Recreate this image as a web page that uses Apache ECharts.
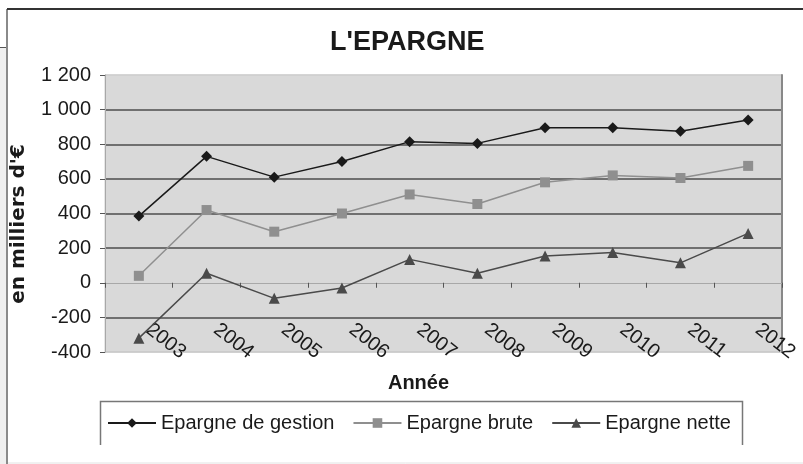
<!DOCTYPE html>
<html>
<head>
<meta charset="utf-8">
<script src="https://cdn.jsdelivr.net/npm/echarts@6/dist/echarts.min.js"></script>
<style>
  html, body { margin: 0; padding: 0; background: #fff; }
  #chart { width: 803px; height: 464px; }
</style>
</head>
<body>
<div id="chart"></div>
<script>
const years = ['2003', '2004', '2005', '2006', '2007', '2008', '2009', '2010', '2011', '2012']
const epargneGestion = [385, 730, 610, 700, 815, 805, 895, 895, 875, 940]
const epargneBrute = [40, 420, 295, 400, 510, 455, 580, 620, 605, 675]
const epargneNette = [-320, 55, -90, -30, 135, 55, 155, 175, 115, 285]
const yTicks = [-400, -200, 0, 200, 400, 600, 800, 1000, 1200]

const font = "'Liberation Sans', Arial, sans-serif"
const ink = '#1a1a1a'

// gap-separated thousands, like "1 200"
function formatTick(v) {
  const sign = v < 0 ? '-' : ''
  return sign + String(Math.abs(v)).replace(/\B(?=(\d{3})+(?!\d))/g, ' ')
}

// one colour per horizontal line, bottom to top; 0 is drawn by the x axis
const gridColors = yTicks.map((t) => {
  if (t === 0) return 'transparent'
  if (t === yTicks[0]) return '#c8c8c8'
  if (t === yTicks[yTicks.length - 1]) return '#cfcfcf'
  return '#4d4d4d'
})

function lineSeries(name, data, color, symbol, size) {
  return {
    name,
    type: 'line',
    data,
    symbol,
    symbolSize: size,
    color,
    lineStyle: { color, width: 1.5 },
    itemStyle: { color },
    emphasis: { disabled: true },
    z: 3,
  }
}

function buildOption() {
  return {
    backgroundColor: '#fff',
    animation: false,
    textStyle: { fontFamily: font },
    title: {
      text: "L'EPARGNE",
      left: 330,
      top: 29,
      padding: 0,
      textStyle: { fontFamily: font, fontSize: 27, fontWeight: 'bold', color: ink },
    },
    grid: {
      left: 105,
      right: 21,
      top: 75,
      bottom: 112,
      show: true,
      backgroundColor: '#d9d9d9',
      borderColor: '#cfcfcf',
      borderWidth: 1,
    },
    legend: {
      left: 100,
      top: 401,
      padding: [12, 8, 9, 7],
      itemWidth: 48,
      itemHeight: 12,
      itemGap: 18,
      textStyle: { fontFamily: font, fontSize: 20, color: ink },
      data: ['Epargne de gestion', 'Epargne brute', 'Epargne nette'],
    },
    xAxis: {
      type: 'category',
      data: years,
      boundaryGap: true,
      name: 'Année',
      nameLocation: 'middle',
      nameGap: 21,
      nameTextStyle: {
        fontFamily: font,
        fontSize: 20,
        fontWeight: 'bold',
        color: ink,
        padding: [0, 50, 0, 0],
      },
      axisLine: { onZero: true, lineStyle: { color: '#a8a8a8', width: 1 } },
      axisTick: { show: true, length: 5, lineStyle: { color: '#555' } },
      axisLabel: {
        interval: 0,
        rotate: -38,
        margin: -32,
        padding: [0, 0, 0, 12],
        fontFamily: font,
        fontSize: 20,
        color: ink,
      },
      splitLine: { show: false },
    },
    yAxis: [
      {
        type: 'value',
        min: -400,
        max: 1200,
        interval: 200,
        axisLine: { show: true, lineStyle: { color: '#a8a8a8' } },
        axisTick: { show: true, length: 5, lineStyle: { color: '#555' } },
        axisLabel: {
          margin: 14,
          fontFamily: font,
          fontSize: 20,
          color: ink,
          formatter: (v) => formatTick(v),
        },
        splitLine: { show: true, lineStyle: { color: gridColors, width: 1.5 } },
      },
      {
        type: 'value',
        position: 'right',
        min: -400,
        max: 1200,
        interval: 200,
        axisLine: { show: true, lineStyle: { color: '#888', width: 2 } },
        axisTick: { show: false },
        axisLabel: { show: false },
        splitLine: { show: false },
      },
    ],
    graphic: [
      // page frame around the chart
      { type: 'rect', shape: { x: 0, y: 47, width: 6, height: 417 }, style: { fill: '#efefef' }, silent: true },
      { type: 'line', shape: { x1: 0, y1: 47.5, x2: 6, y2: 47.5 }, style: { stroke: '#555', lineWidth: 1 }, silent: true },
      { type: 'line', shape: { x1: 7, y1: 9, x2: 7, y2: 464 }, style: { stroke: '#8a8a8a', lineWidth: 2 }, silent: true },
      { type: 'line', shape: { x1: 7, y1: 9, x2: 803, y2: 9 }, style: { stroke: '#333', lineWidth: 2 }, silent: true },
      { type: 'line', shape: { x1: 8, y1: 463, x2: 803, y2: 463 }, style: { stroke: '#e2e2e2', lineWidth: 1 }, silent: true },
      // legend box, open at the bottom as in the source
      {
        type: 'polyline',
        shape: { points: [[100.5, 445], [100.5, 401.5], [742.5, 401.5], [742.5, 445]] },
        style: { stroke: '#777', fill: null, lineWidth: 1.5 },
        silent: true,
      },
      {
        type: 'text',
        x: 19,
        y: 224,
        rotation: Math.PI / 2,
        style: {
          text: "en milliers d'€",
          fontFamily: "'DejaVu Sans', sans-serif",
          fontSize: 20,
          fontWeight: 'bold',
          fill: ink,
          align: 'center',
          verticalAlign: 'middle',
        },
        silent: true,
      },
    ],
    series: [
      lineSeries('Epargne de gestion', epargneGestion, '#1a1a1a', 'diamond', 11),
      lineSeries('Epargne brute', epargneBrute, '#8f8f8f', 'rect', 10),
      lineSeries('Epargne nette', epargneNette, '#4a4a4a', 'triangle', 11),
    ],
  }
}

const chart = echarts.init(document.getElementById('chart'), null, { renderer: 'canvas' })
chart.setOption(buildOption())
</script>
</body>
</html>
